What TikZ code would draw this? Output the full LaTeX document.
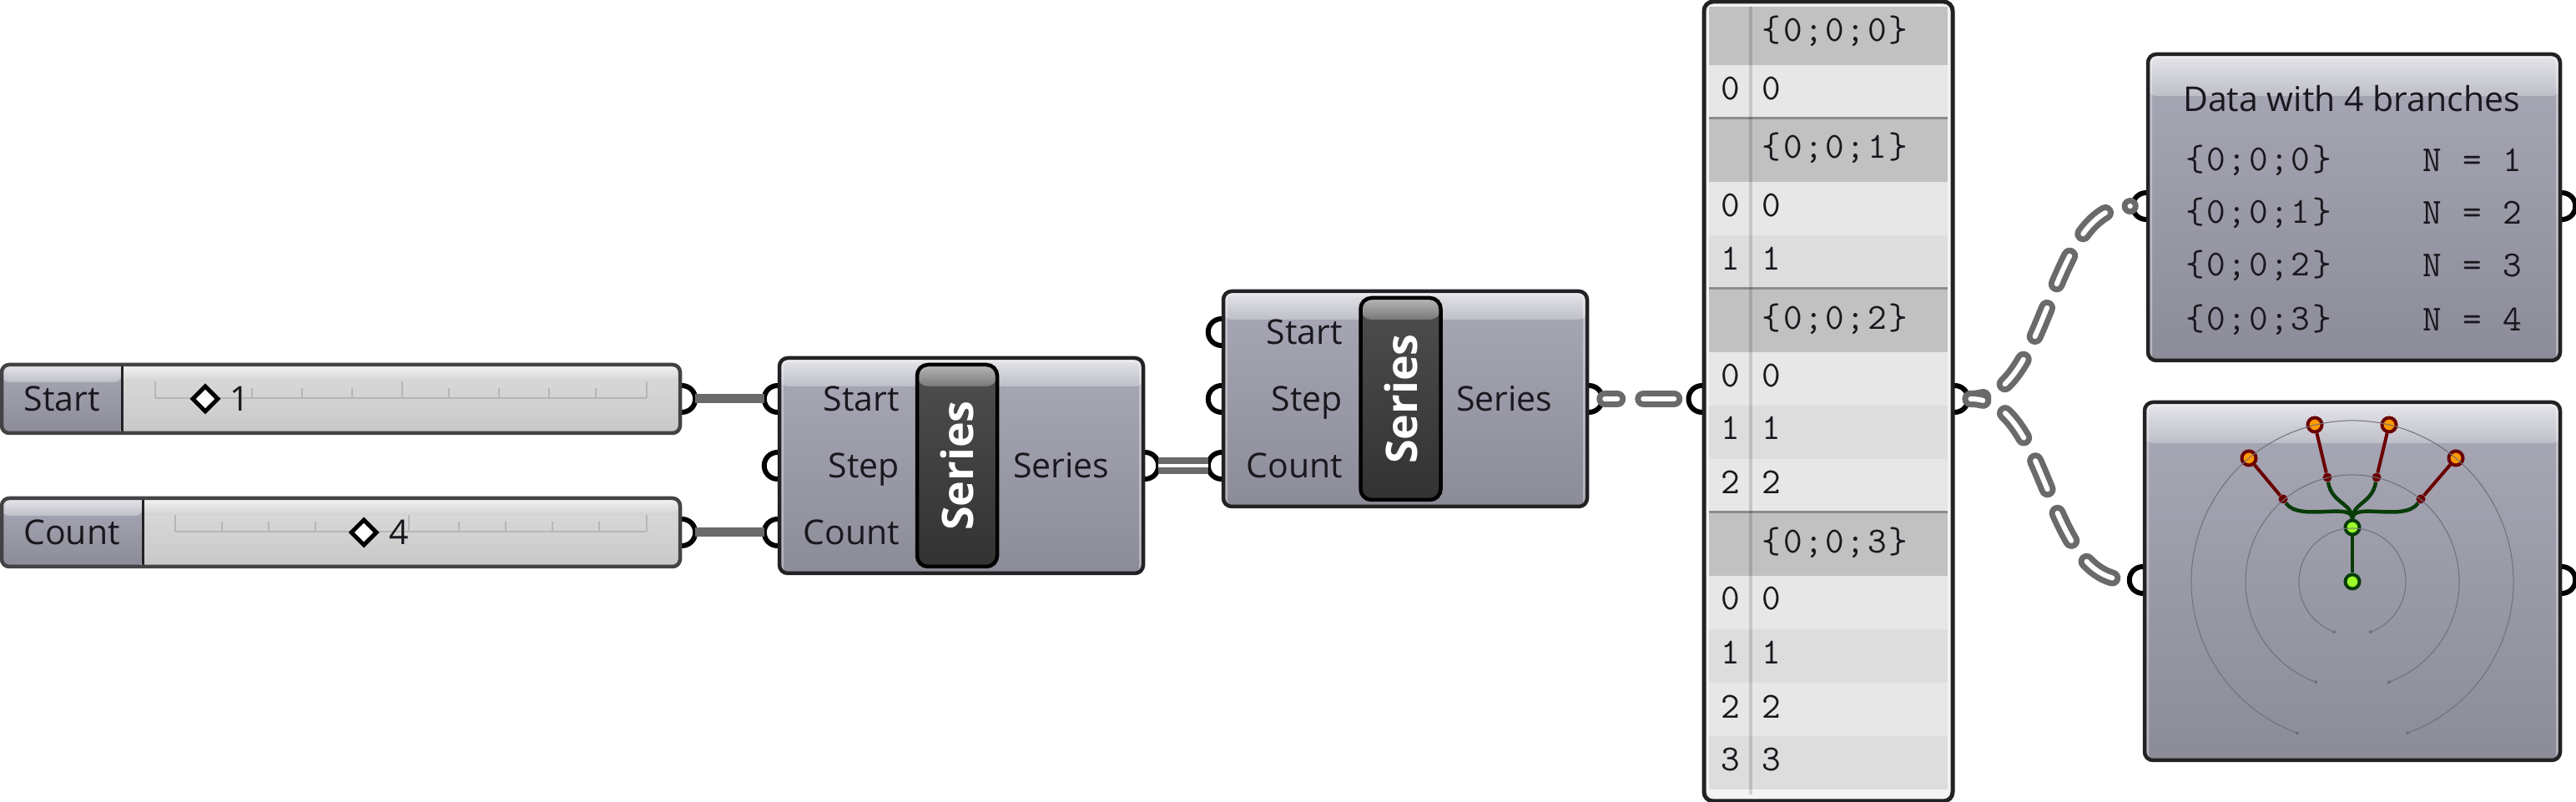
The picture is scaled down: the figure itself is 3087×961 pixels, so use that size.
\documentclass[tikz,border=0pt]{standalone}
\usepackage{fontspec}
\setmainfont{Open Sans}
\setmonofont[LetterSpace=6]{Latin Modern Mono}
\usepackage{xcolor}
\usepackage{tikz}
\usetikzlibrary{positioning,shapes.geometric,backgrounds}
\definecolor{ink}{RGB}{24,24,30}
\definecolor{edgedark}{RGB}{34,34,36}
\definecolor{wiregray}{RGB}{106,106,106}
\definecolor{headtop}{RGB}{230,230,235}
\definecolor{headbot}{RGB}{190,190,200}
\definecolor{bodytop}{RGB}{168,168,182}
\definecolor{bodybot}{RGB}{140,140,153}
\definecolor{slidetop}{RGB}{244,244,244}
\definecolor{slidemid}{RGB}{220,220,220}
\definecolor{slidebot}{RGB}{200,200,200}
\definecolor{tracktick}{RGB}{182,182,182}
\definecolor{rowlight}{RGB}{231,231,231}
\definecolor{rowdark}{RGB}{221,221,221}
\definecolor{rowhead}{RGB}{193,193,193}
\definecolor{rowline}{RGB}{140,140,140}
\definecolor{capdark}{RGB}{50,50,50}
\definecolor{capmid}{RGB}{78,78,78}
\definecolor{captop}{RGB}{184,184,184}
\definecolor{capband}{RGB}{120,120,120}
\definecolor{branchred}{RGB}{106,0,0}
\definecolor{branchgreen}{RGB}{8,60,8}
\definecolor{ptorange}{RGB}{255,153,0}
\definecolor{ptgreen}{RGB}{154,255,42}
\definecolor{guidegray}{RGB}{112,112,122}
\tikzset{
  compbox/.style={draw=edgedark, line width=4.5pt, rounded corners=10pt, inner sep=0pt,
    path picture={
      \shade[top color=bodytop, bottom color=bodybot] (path picture bounding box.north west)
        rectangle (path picture bounding box.south east);
      \shade[top color=headtop, bottom color=headbot] (path picture bounding box.north west)
        rectangle ([yshift=-#1]path picture bounding box.north east);
      \draw[white, opacity=0.35, line width=10pt] (path picture bounding box.south west)
        -- (path picture bounding box.north west) -- (path picture bounding box.north east)
        -- (path picture bounding box.south east);}},
  compbox/.default=34pt,
  sliderbox/.style={draw=edgedark!85, line width=4.5pt, rounded corners=9pt, inner sep=0pt,
    minimum height=82pt,
    path picture={
      \shade[top color=slidemid, bottom color=slidebot] (path picture bounding box.north west)
        rectangle (path picture bounding box.south east);
      \shade[top color=slidetop, bottom color=slidemid!95!black] (path picture bounding box.north west)
        rectangle ([yshift=-21pt]path picture bounding box.north east);
      \shade[top color=bodytop, bottom color=bodybot] (path picture bounding box.north west)
        rectangle ([xshift=#1]path picture bounding box.south west);
      \shade[top color=headtop, bottom color=headbot] (path picture bounding box.north west)
        rectangle ([xshift=#1,yshift=-21pt]path picture bounding box.north west);
      \draw[edgedark, line width=3pt] ([xshift=#1]path picture bounding box.north west)
        -- ([xshift=#1]path picture bounding box.south west);}},
  capsule/.style={draw=black, line width=4.5pt, rounded corners=13pt, inner sep=0pt,
    minimum width=96pt, minimum height=242pt, text=white,
    font=\fontsize{52}{54}\selectfont\bfseries,
    path picture={
      \shade[top color=capmid, bottom color=capdark] (path picture bounding box.north west)
        rectangle (path picture bounding box.south east);
      \shade[top color=captop, bottom color=capband] (path picture bounding box.north west)
        rectangle ([yshift=-26pt]path picture bounding box.north east);}},
  portnode/.style={circle, draw=black, fill=white, line width=6pt, minimum size=32pt, inner sep=0pt},
  wire/.style={draw=wiregray, line width=11pt, shorten <=-3pt, shorten >=-3pt},
  twinwire/.style={draw=wiregray, line width=8pt, double=white, double distance=3.5pt,
    shorten <=-3pt, shorten >=-3pt},
  dashwire/.style={draw=wiregray, line width=7pt, double=white, double distance=6pt, line cap=round,
    dash pattern=on 37pt off 31pt, dash phase=22pt},
  plabel/.style={font=\fontsize{41}{44}\selectfont, text=ink, inner sep=0pt},
  monotxt/.style={font=\fontsize{44}{48}\selectfont\ttfamily, text=ink, inner sep=0pt},
  knob/.style={diamond, aspect=1, draw=black, fill=white, line width=5pt, minimum size=32pt, inner sep=0pt},
  tickmark/.style={draw=tracktick, line width=2.5pt},
  guide/.style={draw=guidegray, line width=1pt},
  tipred/.style={circle, draw=branchred, fill=ptorange, line width=4pt, minimum size=17pt, inner sep=0pt},
  tipgreen/.style={circle, draw=branchgreen, fill=ptgreen, line width=4pt, minimum size=17pt, inner sep=0pt},
  midred/.style={circle, fill=branchred, minimum size=11pt, inner sep=0pt},
  redbranch/.style={draw=branchred, line width=4pt},
  greenbranch/.style={draw=branchgreen, line width=4.5pt},
}
\begin{document}
\begin{tikzpicture}[x=1pt, y=1pt]
  \useasboundingbox (0,0) rectangle (3087,961);
  \node[sliderbox=144pt, minimum width=813pt] (startsl) at (408.5,483) {};
  \node[sliderbox=169pt, minimum width=813pt] (countsl) at (408.5,323) {};
  \node[compbox, minimum width=436pt, minimum height=258pt] (sera) at (1152,403) {};
  \node[compbox, minimum width=436pt, minimum height=258pt] (serb) at (1684,483) {};
  \node[compbox=50pt, minimum width=494pt, minimum height=367pt] (datap) at (2821,712.5) {};
  \node[compbox=49pt, minimum width=498pt, minimum height=429pt] (viz) at (2819,264.5) {};
  \node[draw=edgedark, line width=5pt, rounded corners=11pt, fill=rowlight!50!white, minimum width=298pt,
    minimum height=958pt, inner sep=0pt] (panel) at (2191,480) {};

  \begin{scope}[on background layer]
    \node[portnode] (startout) at (startsl.east) {};
    \node[portnode] (countout) at (countsl.east) {};
    \node[portnode] (serastart) at ([yshift=80pt]sera.west) {};
    \node[portnode] (serastep) at (sera.west) {};
    \node[portnode] (seracount) at ([yshift=-80pt]sera.west) {};
    \node[portnode] (seraout) at (sera.east) {};
    \node[portnode] (serbstart) at ([yshift=80pt]serb.west) {};
    \node[portnode] (serbstep) at (serb.west) {};
    \node[portnode] (serbcount) at ([yshift=-80pt]serb.west) {};
    \node[portnode] (serbout) at (serb.east) {};
    \node[portnode] (panelin) at ([yshift=3pt]panel.west) {};
    \node[portnode] (panelout) at ([yshift=3pt]panel.east) {};
    \node[portnode] (datain) at ([yshift=1.5pt]datap.west) {};
    \node[portnode] (dataout) at ([yshift=1.5pt]datap.east) {};
    \node[portnode] (vizin) at ([yshift=1.5pt]viz.west) {};
    \node[portnode] (vizout) at ([yshift=1.5pt]viz.east) {};
    \draw[wire] (startout)--(serastart);
    \draw[wire] (countout)--(seracount);
    \draw[twinwire] (seraout)--(serbcount);
    \draw[dashwire] (serbout)--(panelin);
    \draw[dashwire] (panelout) .. controls +(115,0) and +(-119,0) .. (datain);
    \draw[dashwire] (panelout) .. controls +(115,0) and +(-119,0) .. (vizin);
  \end{scope}

  \foreach \tx in {186,302,362,422,482,538,598,658,714,775} {
    \draw[tickmark] (\tx,484) -- (\tx,496);}
  \foreach \tx in {186,482,775} {\draw[tickmark] (\tx,496) -- (\tx,504);}
  \draw[tickmark] (186,484) -- (775,484);
  \foreach \tx in {210,266,322,378,434,490,550,606,662,718,775} {
    \draw[tickmark] (\tx,324) -- (\tx,336);}
  \foreach \tx in {210,490,775} {\draw[tickmark] (\tx,336) -- (\tx,344);}
  \draw[tickmark] (210,324) -- (775,324);
  \node[plabel] (startlab) at (74,483) {Start};
  \node[plabel] (countlab) at (86,323) {Count};
  \node[knob] (startkn) at (246,483) {};
  \node[knob] (countkn) at (436,323) {};
  \node[plabel] (startval) at (287,483) {1};
  \node[plabel] (countval) at (478,323) {4};

  \node[capsule] (seracap) at (1147,403) {\rotatebox{90}{Series}};
  \node[capsule] (serbcap) at (1678.5,483) {\rotatebox{90}{Series}};
  \node[plabel, anchor=base east] (seraa) at (1078,468.5) {Start};
  \node[plabel, anchor=base east] (serab) at (1078,388.5) {Step};
  \node[plabel, anchor=base east] (serac) at (1078,308.5) {Count};
  \node[plabel, anchor=base west] (serad) at (1214,388.5) {Series};
  \node[plabel, anchor=base east] (serba) at (1609,548.5) {Start};
  \node[plabel, anchor=base east] (serbb) at (1609,468.5) {Step};
  \node[plabel, anchor=base east] (serbc) at (1609,388.5) {Count};
  \node[plabel, anchor=base west] (serbd) at (1745,468.5) {Series};

  \foreach \ytop/\ybot/\rowcol in {953/883/rowhead,883/819/rowlight,819/743/rowhead,743/679/rowlight,
    679/615/rowdark,615/539/rowhead,539/475/rowlight,475/411/rowdark,411/347/rowlight,347/271/rowhead,
    271/207/rowlight,207/143/rowdark,143/79/rowlight,79/15/rowdark} {
    \fill[\rowcol] (2048,\ytop) rectangle (2334,\ybot);}
  \foreach \yl in {819,615,347} {\draw[rowline, line width=3pt] (2048,\yl) -- (2334,\yl);}
  \draw[black, opacity=0.14, line width=4pt] (2098,953) -- (2098,9);
  \foreach \yt/\tx/\nm in {924/0/a,784/1/b,579/2/c,311/3/d} {
    \node[monotxt] (head\nm) at (2199,\yt) {\{0;0;\tx\}};}
  \foreach \yt/\tx/\nm in {855/0/a,715/0/b,651/1/c,511/0/d,448/1/e,383/2/f,244/0/g,179/1/h,114/2/i,51/3/j} {
    \node[monotxt] (idx\nm) at (2074,\yt) {\tx};
    \node[monotxt] (val\nm) at (2123,\yt) {\tx};}

  \node[plabel] (datatitle) at (2818,843) {Data with 4 branches};
  \foreach \yt/\tx/\cnt in {769/0/1,706/1/2,643/2/3,578/3/4} {
    \node[monotxt, anchor=west] (path\cnt) at (2619,\yt) {\{0;0;\tx\}};
    \node[monotxt, anchor=east] (count\cnt) at (3022,\yt) {N = \cnt};}

  \node[tipgreen] (root) at (2819,264) {};
  \node[tipgreen] (fork) at (2819,329) {};
  \node[midred] (mida) at (2736,363) {};
  \node[midred] (midb) at (2789,389) {};
  \node[midred] (midc) at (2848,389) {};
  \node[midred] (midd) at (2901,363) {};
  \node[tipred] (tipa) at (2695,412) {};
  \node[tipred] (tipb) at (2774,452) {};
  \node[tipred] (tipc) at (2863,452) {};
  \node[tipred] (tipd) at (2943,412) {};
  \foreach \rad in {64,128,193} {
    \draw[guide] (root.center) ++(-70:\rad) arc[start angle=-70, end angle=250, radius=\rad];
    \fill[guidegray] (root.center) ++(-70:\rad) circle (2pt);
    \fill[guidegray] (root.center) ++(250:\rad) circle (2pt);}
  \draw[greenbranch] (root)--(fork);
  \draw[greenbranch] (fork) .. controls +(0,31) and +(19,-28) .. (mida);
  \draw[greenbranch] (fork) .. controls +(0,29) and +(5,-31) .. (midb);
  \draw[greenbranch] (fork) .. controls +(0,29) and +(-5,-31) .. (midc);
  \draw[greenbranch] (fork) .. controls +(0,31) and +(-19,-28) .. (midd);
  \draw[redbranch] (mida)--(tipa);
  \draw[redbranch] (midb)--(tipb);
  \draw[redbranch] (midc)--(tipc);
  \draw[redbranch] (midd)--(tipd);
\end{tikzpicture}
\end{document}
